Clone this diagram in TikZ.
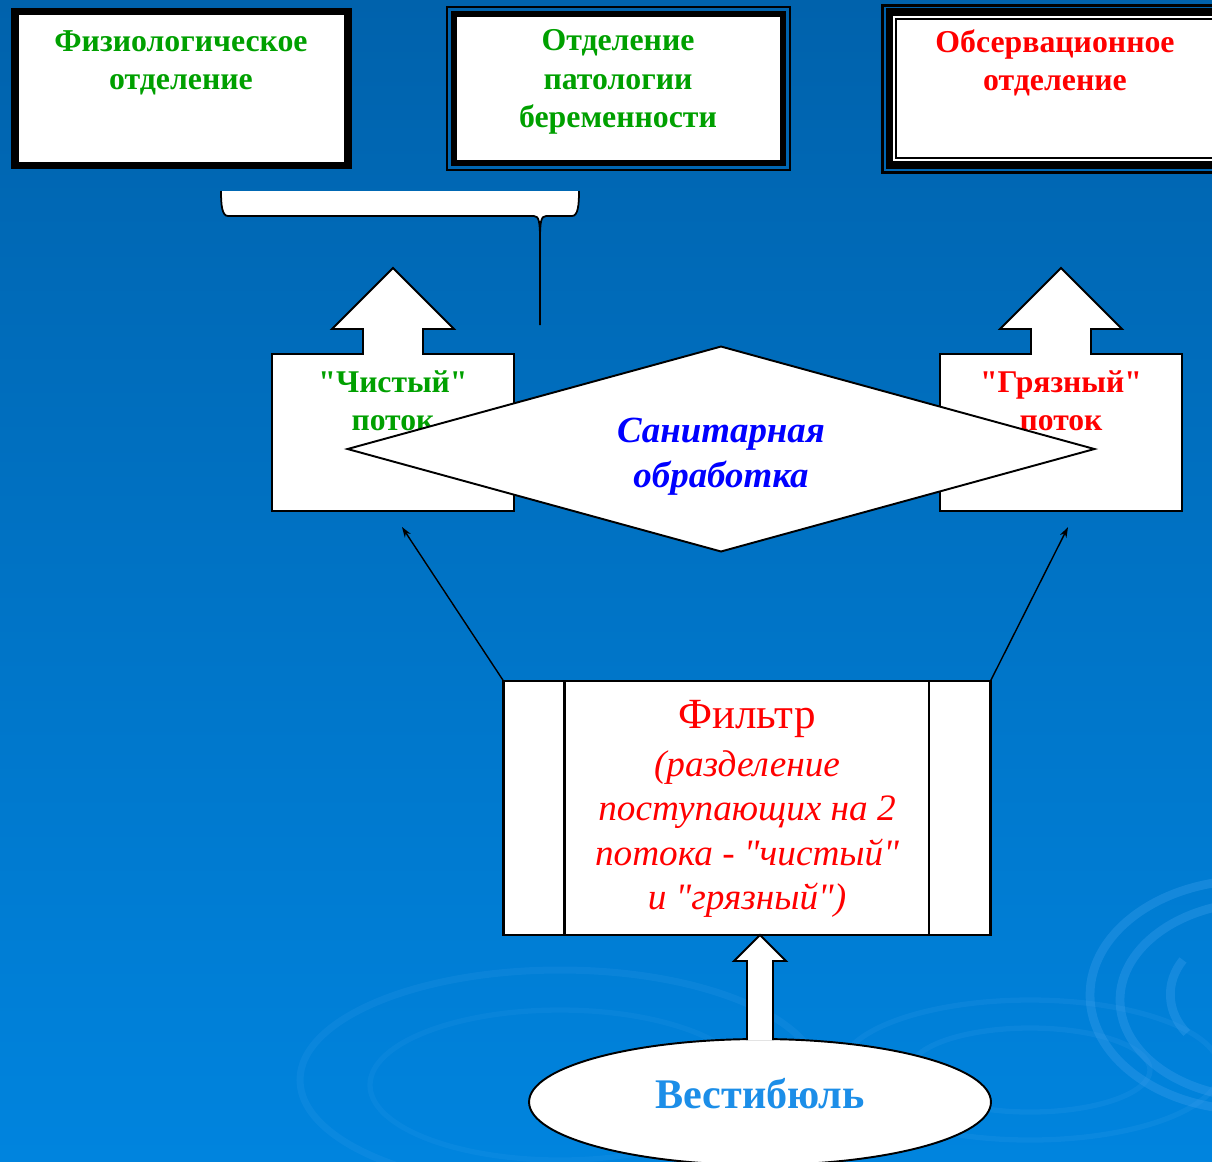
\documentclass[tikz,border=0pt]{standalone}
\usepackage{fontspec}
\setmainfont{Liberation Serif}[Ligatures=TeXOff]
\usetikzlibrary{shapes.geometric}
\usetikzlibrary{arrows.meta}
\usetikzlibrary{calc}

\definecolor{bgtop}{RGB}{0,98,172}
\definecolor{bgbot}{RGB}{0,132,222}
\definecolor{cleangreen}{RGB}{0,160,0}
\definecolor{vestblue}{RGB}{28,142,232}
\definecolor{ripplecol}{RGB}{70,165,240}

\begin{document}
\begin{tikzpicture}[x=0.02cm, y=-0.02cm,
	every node/.style = {align=center, inner sep=0pt, outer sep=0pt},
	dept/.style = {font=\fontsize{18.1}{22}\selectfont\bfseries},
	flowtext/.style = {font=\fontsize{18}{21.5}\selectfont\bfseries},
	callout/.style = {draw, fill=white, line width=1.1pt},
	ripple/.style = {draw=ripplecol, line width=5pt, opacity=0.3},
	thinarrow/.style = {line width=0.8pt, -{Stealth[length=6pt, width=4pt]}}]
		% background
		\useasboundingbox (0,0) rectangle (1212,1161);
		\shade[top color=bgtop, bottom color=bgbot] (0,0) rectangle (1212,1161);
		\begin{scope}
			\clip (0,0) rectangle (1212,1161);
			\draw[ripple] (1250,995) ellipse (160 and 115);
			\draw[ripple] (1260,1000) ellipse (140 and 98);
			\draw[ripple] (1183,960) arc (215:140:70 and 60);
			\draw[ripple, line width=3pt, opacity=0.15] (1030,1070) ellipse (190 and 70);
			\draw[ripple, line width=3pt, opacity=0.15] (1030,1070) ellipse (120 and 42);
			\draw[ripple, line width=4pt, opacity=0.15] (560,1080) ellipse (260 and 110);
			\draw[ripple, line width=3pt, opacity=0.12] (560,1085) ellipse (190 and 75);
		\end{scope}

		% departments
		\draw[line width=4.5pt, fill=white] (15,11.5) rectangle (348,165.5);
		\node[dept, text=cleangreen] (phys) at (181,63) {Физиологическое\\отделение};

		\draw[line width=1.1pt] (447,7) rectangle (790,170);
		\draw[line width=3.4pt, fill=white] (454,14) rectangle (783,163);
		\node[dept, text=cleangreen] (path) at (618,82) {Отделение\\патологии\\беременности};

		\draw[line width=1.7pt] (882.5,5.5) rectangle (1260,172);
		\draw[line width=4pt, fill=white] (889.5,12) rectangle (1260,165);
		\draw[line width=1.1pt] (896,19) rectangle (1260,158);
		\node[dept, text=red] (obs) at (1055,63) {Обсервационное\\отделение};

		% brace under the clean departments
		\fill[white] (221,191) -- (579,191) .. controls (579,205) and (578,216) .. (572,216)
			-- (546,216) .. controls (541,216) and (540,222) .. (540,240)
			.. controls (540,222) and (539,216) .. (534,216) -- (228,216)
			.. controls (222,216) and (221,205) .. (221,191) -- cycle;
		\coordinate (bracetip) at (540,325);
		\draw[line width=1pt] (221,191) .. controls (221,205) and (222,216) .. (228,216) -- (534,216)
			.. controls (539,216) and (540,222) .. (540,240) -- (bracetip);
		\draw[line width=1pt] (579,191) .. controls (579,205) and (578,216) .. (572,216) -- (546,216)
			.. controls (541,216) and (540,222) .. (540,240);

		% flows
		\draw[callout, shift={(393,0)}] (-121,354) -- (-30,354) -- (-30,329) -- (-61,329) -- (0,268)
			-- (61,329) -- (30,329) -- (30,354) -- (121,354) -- (121,511) -- (-121,511) -- cycle;
		\node[flowtext, text=cleangreen] (clean) at (393,401) {"Чистый"\\поток};
		\coordinate (cleanend) at (402,527);

		\draw[callout, shift={(1061,0)}] (-121,354) -- (-30,354) -- (-30,329) -- (-61,329) -- (0,268)
			-- (61,329) -- (30,329) -- (30,354) -- (121,354) -- (121,511) -- (-121,511) -- cycle;
		\node[flowtext, text=red] (dirty) at (1061,401) {"Грязный"\\поток};
		\coordinate (dirtyend) at (1068,527);

		% sanitary treatment
		\node[diamond, draw, fill=white, line width=1.1pt, aspect=3.64, minimum width=14.94cm, minimum height=4.1cm] (sanit) at (721,449) {};
		\node[text=blue, font=\fontsize{21}{25.5}\selectfont\bfseries\itshape] (sanittext) at ($(sanit.center)+(0,8)$)
			{Санитарная\\обработка};

		% filter
		\node[draw, fill=white, line width=1.3pt, minimum width=9.74cm, minimum height=5.08cm] (filter) at (747,808) {};
		\draw[line width=1.3pt] ($(filter.north west)+(61,0)$) -- ($(filter.south west)+(61,0)$)
			($(filter.north east)+(-61.5,0)$) -- ($(filter.south east)+(-61.5,0)$);
		\node[text=red, font=\fontsize{24.5}{27}\selectfont] (filtitle) at (747,719) {Фильтр};
		\node[text=red, font=\fontsize{21.2}{25.2}\selectfont\itshape] (filtext) at (747,834)
			{(разделение\\поступающих на 2\\потока - "чистый"\\и "грязный")};

		% vestibule
		\node[ellipse, draw, fill=white, line width=1.1pt, minimum width=9.24cm, minimum height=2.52cm] (vest) at (760,1102) {};
		\node[text=vestblue, font=\fontsize{24}{28}\selectfont\bfseries] (vesttext) at ($(vest.center)+(0,-8)$) {Вестибюль};

		% connectors
		\draw[callout] ($(vest.north)+(-13,1)$) -- ($(vest.north |- filter.south)+(-13,26)$)
			-- ($(vest.north |- filter.south)+(-26,26)$) -- (vest.north |- filter.south)
			-- ($(vest.north |- filter.south)+(26,26)$) -- ($(vest.north |- filter.south)+(13,26)$)
			-- ($(vest.north)+(13,1)$);
		\draw[thinarrow] (filter.north west) -- (cleanend);
		\draw[thinarrow] (filter.north east) -- (dirtyend);
\end{tikzpicture}
\end{document}
